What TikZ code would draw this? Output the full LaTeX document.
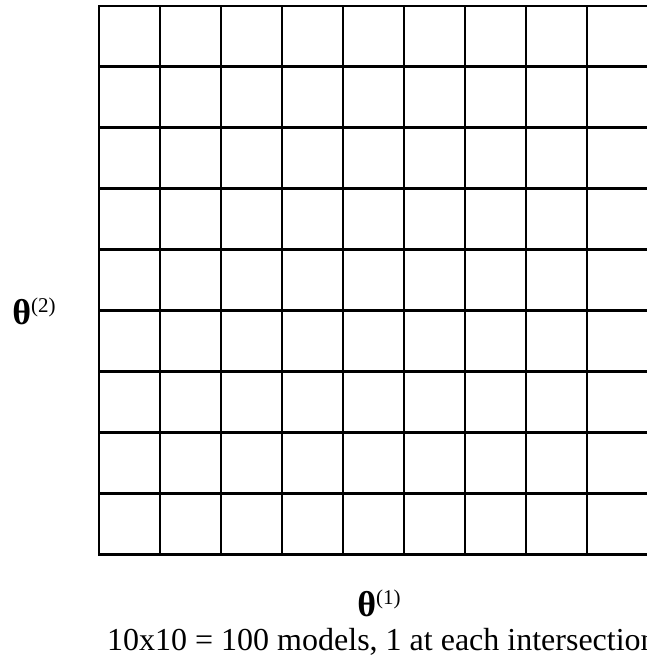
\documentclass[tikz,border=0pt]{standalone}
\usepackage{fontspec}
\setmainfont{Liberation Serif}
\newcommand{\thetalab}[1]{{\fontsize{36}{42}\selectfont\bfseries θ}{\fontsize{21}{25}\selectfont\raisebox{12pt}{(#1)}}}
\tikzset{
  gridline/.style={line width=2.8pt, line cap=rect, black},
  axislabel/.style={inner sep=0pt, anchor=base},
  caption/.style={inner sep=0pt, anchor=base west, font=\fontsize{32}{38}\selectfont}
}
\begin{document}
\begin{tikzpicture}[x=1pt,y=-1pt]
\useasboundingbox (0,0) rectangle (647,658);
\begin{scope}
\clip (0,0) rectangle (647,658);
\foreach \k in {0,...,9}{
  \draw[gridline] (99,{6+\k*60.9}) -- (652,{6+\k*60.9});
}
\foreach \k in {0,...,9}{
  \draw[gridline] ({99+\k*61},6) -- ({99+\k*61},554);
}
\end{scope}
\node[axislabel] (t2) at (34,324) {\thetalab{2}};
\node[axislabel] (t1) at (379,616) {\thetalab{1}};
\node[caption] (cap) at (107,650) {10x10 = 100 models, 1 at each intersection};
\end{tikzpicture}
\end{document}
